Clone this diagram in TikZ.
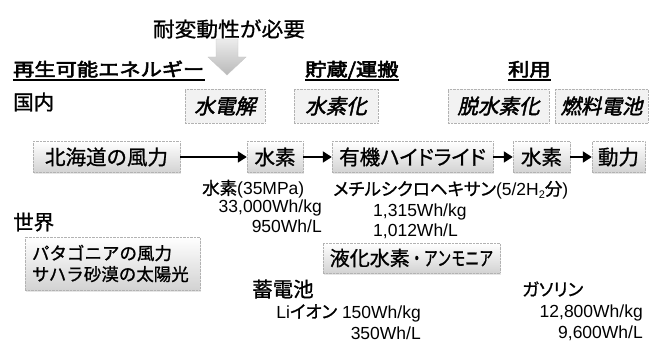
\documentclass[tikz,border=0pt]{standalone}
\usepackage{fontspec}
\setmainfont{Liberation Sans}
\newfontfamily\cjk[FakeBold=1]{Noto Sans CJK JP}
\newfontfamily\cjkp[RawFeature=+palt,FakeBold=1]{Noto Sans CJK JP}
\newfontfamily\cjkb[FakeBold=3]{Noto Sans CJK JP}
\newfontfamily\cjkit[FakeSlant=0.22,FakeBold=2]{Noto Sans CJK JP}
\usetikzlibrary{arrows.meta,shadows}
\newcommand\fBig{\fontsize{20.5}{24}\selectfont}
\newcommand\fSm{\fontsize{17.5}{21}\selectfont}
\newcommand\fHd{\fontsize{18}{22}\selectfont}
\tikzset{
  flowbox/.style={draw=gray!60, densely dotted, top color=white, bottom color=gray!35,
    inner sep=0pt, minimum height=31pt, font=\cjk\fBig,
    drop shadow={opacity=0.2,shadow xshift=1pt,shadow yshift=-1.5pt}},
  procbox/.style={draw=gray!60, densely dotted, fill=gray!10, inner sep=0pt,
    minimum height=34pt, font=\cjkit\fBig},
  flowarrow/.style={line width=1.8pt, -{Triangle[length=9pt,width=11pt]}},
  heading/.style={inner sep=0pt, anchor=base west, font=\cjkb\fHd},
  txt/.style={inner sep=0pt, font=\fSm},
  uline/.style={line width=1.3pt},
}
\begin{document}
\begin{tikzpicture}[x=1pt,y=-1pt]
\useasboundingbox (0,0) rectangle (652,344);

% top note and block arrow
\node[inner sep=0pt, font=\cjk\fBig] (need) at (229,29) {\scalebox{1.06}[1]{耐変動性が必要}};
\shade[top color=gray!15, bottom color=gray!55, draw=gray!45]
  (216,39) -- (238,39) -- (238,57) -- (246,57) -- (227,75) -- (208,57) -- (216,57) -- cycle;

% headings
\node[heading] (h1) at (13,76) {\scalebox{1.18}[1]{再生可能エネルギー}};
\node[heading] (h2) at (305,76) {\scalebox{1.18}[1]{貯蔵/運搬}};
\node[heading] (h3) at (508,76) {\scalebox{1.18}[1]{利用}};
\foreach \h in {h1,h2,h3}
  \draw[uline] ([yshift=-4pt]\h.base west) -- ([yshift=-4pt]\h.base east);

\node[inner sep=0pt, anchor=west, font=\cjk\fBig] (dom) at (13,102) {国内};

% process boxes
\node[procbox, minimum width=80pt] (p1) at (225,106) {水電解};
\node[procbox, minimum width=84pt] (p2) at (336,106) {水素化};
\node[procbox, minimum width=101pt] (p3) at (498.5,106) {脱水素化};
\node[procbox, minimum width=93pt] (p4) at (601.5,106) {燃料電池};

% main flow
\node[flowbox, minimum width=147pt] (n1) at (106.5,157) {北海道の風力};
\node[flowbox, minimum width=56pt] (n2) at (275,157) {水素};
\node[flowbox, minimum width=161pt, font=\cjkp\fBig] (n3) at (412.5,157) {有機ハイドライド};
\node[flowbox, minimum width=57pt] (n4) at (541.5,157) {水素};
\node[flowbox, minimum width=53pt] (n5) at (618.5,157) {動力};
\draw[flowarrow] (n1.east) -- (n2.west);
\draw[flowarrow] (n2.east) -- (n3.west);
\draw[flowarrow] (n3.east) -- (n4.west);
\draw[flowarrow] (n4.east) -- (n5.west);

% data under flow
\node[txt, anchor=west] (t1) at (202,189) {{\cjk 水素}(35MPa)};
\node[txt, anchor=east] (t2) at (322,208) {33,000Wh/kg};
\node[txt, anchor=east] (t3) at (322,226) {950Wh/L};
\node[txt, anchor=west] (t4) at (333,190) {{\cjkp メチルシクロヘキサン}(5/2H\raisebox{-0.35ex}{\fontsize{11}{11}\selectfont 2}{\cjk 分})};
\node[txt, anchor=west] (t5) at (373,212) {1,315Wh/kg};
\node[txt, anchor=west] (t6) at (373,231) {1,012Wh/L};

% world
\node[inner sep=0pt, anchor=west, font=\cjk\fBig] (world) at (13,222) {世界};
\node[flowbox, font=\cjk\fSm, minimum width=175pt, minimum height=53pt,
      inner xsep=7pt, text width=161pt, align=left] (w1) at (112.5,263.5)
  {\fontsize{17.5}{23}\selectfont パタゴニアの風力\\サハラ砂漠の太陽光};
\node[flowbox, minimum width=177pt, minimum height=30pt, font=\cjk\fontsize{20}{24}\selectfont] (lq) at (411.5,258)
  {液化水素\scalebox{0.7}[1]{・アンモニア}};

% battery
\node[inner sep=0pt, anchor=west, font=\cjk\fBig] (bat) at (252,289) {蓄電池};
\node[txt, anchor=east] (b1) at (421,313) {Li{\cjkp イオン} 150Wh/kg};
\node[txt, anchor=east] (b2) at (421,333) {350Wh/L};

% gasoline
\node[txt, anchor=west, font=\cjkp\fSm] (gas) at (522,289) {ガソリン};
\node[txt, anchor=east] (g1) at (643,313) {12,800Wh/kg};
\node[txt, anchor=east] (g2) at (643,333) {9,600Wh/L};
\end{tikzpicture}
\end{document}
